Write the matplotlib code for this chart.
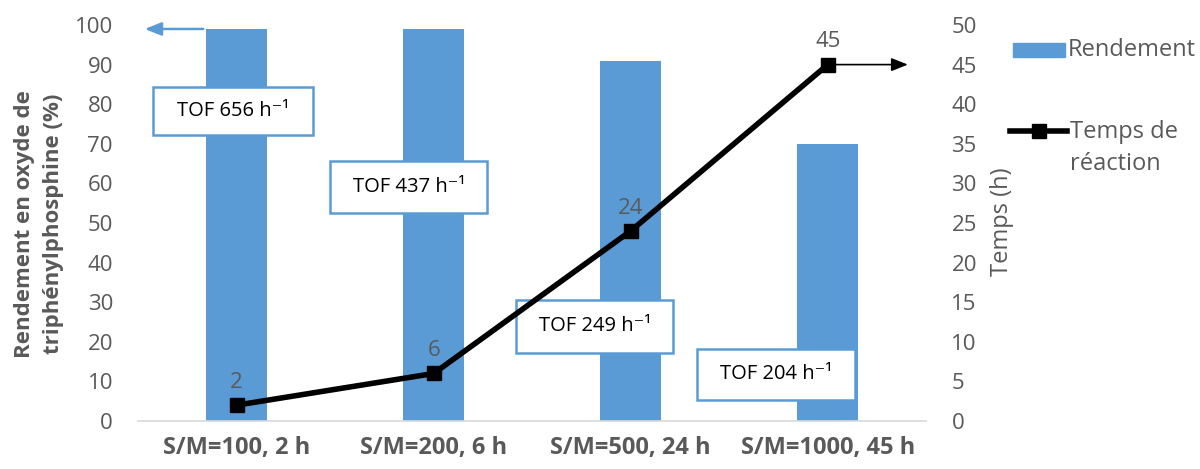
import matplotlib
matplotlib.use("Agg")
import matplotlib.pyplot as plt
from matplotlib.lines import Line2D
from matplotlib.patches import Rectangle

categories = ["S/M=100, 2 h", "S/M=200, 6 h", "S/M=500, 24 h", "S/M=1000, 45 h"]
rendement = [99, 99, 91, 70]
temps = [2, 6, 24, 45]
tof_labels = ["TOF 656 h⁻¹", "TOF 437 h⁻¹", "TOF 249 h⁻¹", "TOF 204 h⁻¹"]
legend_labels = ["Rendement", "Temps de\nréaction"]

plt.rcParams['font.family'] = ['Open Sans', 'DejaVu Sans']
gray = "#595959"
blue = "#5B9BD5"

fig = plt.figure(figsize=(12, 4.69), dpi=100)
ax = fig.add_axes([0.115, 0.1023, 0.657, 0.8444])
ax2 = ax.twinx()

x = list(range(len(categories)))
ax.bar(x, rendement, width=0.31, color=blue, zorder=1)
ax.set_xlim(-0.5, len(categories) - 0.5)
ax.set_ylim(0, 100)
ax.set_yticks(range(0, 101, 10))
ax2.set_ylim(0, 50)
ax2.set_yticks(range(0, 51, 5))

ax2.plot(x, temps, color="black", lw=4, marker="s", ms=10, zorder=5)
for xi, t in zip(x, temps):
    ax2.annotate(str(t), (xi, t), xytext=(0, 16.5), textcoords="offset points",
                 ha="center", va="center", fontsize=16, color=gray)

for a in (ax, ax2):
    for s in a.spines.values():
        s.set_visible(False)
    a.tick_params(length=0, labelsize=16, colors=gray, pad=18)
ax.spines['bottom'].set_visible(True)
ax.spines['bottom'].set_color("#D9D9D9")
ax.spines['bottom'].set_linewidth(1.2)
ax.set_xticks(x)
ax.set_xticklabels(categories, fontsize=17, fontweight="bold", color=gray)
ax.tick_params(axis='x', pad=11)

fig.text(0.0325, 0.522, "Rendement en oxyde de\ntriphénylphosphine (%)", rotation=90,
         ha="center", va="center", fontsize=16, fontweight="bold", color=gray,
         linespacing=1.45, multialignment="center")
fig.text(0.835, 0.527, "Temps (h)", rotation=90, ha="center", va="center",
         fontsize=17, color=gray)

# arrows
ax.annotate("", xy=(-0.48, rendement[0]), xytext=(-0.155, rendement[0]),
            arrowprops=dict(arrowstyle="-|>,head_length=1.0,head_width=0.4",
                            color=blue, lw=1.8), zorder=0)
ax2.annotate("", xy=(3.42, temps[3]), xytext=(3, temps[3]),
             arrowprops=dict(arrowstyle="-|>,head_length=1.0,head_width=0.4",
                             color="black", lw=1.2), zorder=4, annotation_clip=False)

# TOF boxes (x0, x1, y0, y1 in data units of left axis)
tof_boxes = [(-0.424, 0.388, 72.2, 84.3), (0.475, 1.272, 52.5, 65.7),
             (1.419, 2.216, 17.2, 30.6), (2.338, 3.14, 5.3, 18.2)]
for (x0, x1, y0, y1), lab in zip(tof_boxes, tof_labels):
    ax.add_patch(Rectangle((x0, y0), x1 - x0, y1 - y0, fc="white", ec=blue, lw=1.8, zorder=6))
    ax.text((x0 + x1) / 2, (y0 + y1) / 2, lab, ha="center", va="center",
            fontsize=14.5, color="black", zorder=7)

# legend (drawn manually to follow the reference layout)
fig.add_artist(Rectangle((1013 / 1200, 1 - 57 / 469), 52 / 1200, 14 / 469,
                         transform=fig.transFigure, color=blue))
fig.text(1068 / 1200, 1 - 50 / 469, legend_labels[0], ha="left", va="center",
         fontsize=17, color=gray)
fig.add_artist(Line2D([1010 / 1200, 1067 / 1200], [1 - 131 / 469, 1 - 131 / 469],
                      transform=fig.transFigure, color="black", lw=4))
fig.add_artist(Line2D([1038.5 / 1200], [1 - 131 / 469], transform=fig.transFigure,
                      color="black", marker="s", ms=10))
fig.text(1070 / 1200, 1 - 148 / 469, legend_labels[1], ha="left", va="center",
         fontsize=17, color=gray, linespacing=1.45)

fig.savefig("out.png", dpi=100)
